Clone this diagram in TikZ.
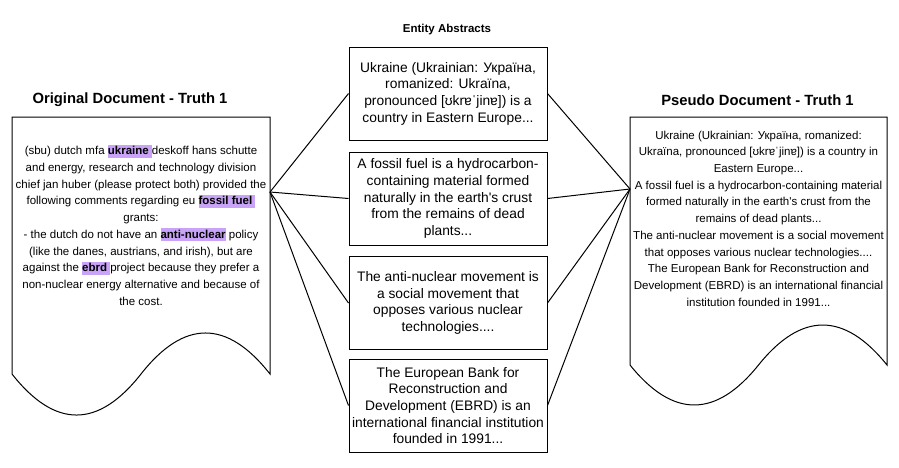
\documentclass[tikz,border=0pt]{standalone}
\usepackage{fontspec}
\setmainfont{Liberation Sans}
\definecolor{hl}{HTML}{C9A3F7}
\newcommand\hlw[1]{{\setlength{\fboxsep}{0pt}\colorbox{hl}{\rule[-3pt]{0pt}{13pt}\bfseries #1}}}
\newcommand\apos{\textquotesingle}
\tikzset{
  absbox/.style={draw, line width=1pt, minimum width=198pt, minimum height=93pt, inner sep=0pt,
    align=center, font=\fontsize{13.8}{16.7}\selectfont},
  doctext/.style={inner sep=0pt, align=center, font=\fontsize{11.5}{16.7}\selectfont},
  doctitle/.style={inner sep=0pt, font=\fontsize{14.8}{17}\selectfont\bfseries},
  conn/.style={line width=1pt},
  docshape/.style={draw, line width=1pt}
}
\begin{document}
\begin{tikzpicture}[x=1pt,y=-1pt]
\useasboundingbox (0,0) rectangle (899,467);
% titles
\node[inner sep=0pt, font=\fontsize{11.5}{13}\selectfont\bfseries] (ttlmid) at (447,30) {Entity Abstracts};
\node[doctitle] (ttlleft) at (130,100) {Original Document - Truth 1};
\node[doctitle] (ttlright) at (757.5,100) {Pseudo Document - Truth 1};
% documents
\draw[docshape] (12,117) -- (270,117) -- (270,374) .. controls (227,319.3) and (184,319.3) .. (141,374) .. controls (98,428.7) and (55,428.7) .. (12,374) -- cycle;
\draw[docshape] (630,117) -- (887,117) -- (887,365) .. controls (844.2,311.7) and (801.3,311.7) .. (758.5,365) .. controls (715.7,418.3) and (672.8,418.3) .. (630,365) -- cycle;
\node[doctext] (ldoc) at (141,225) {(sbu) dutch mfa \hlw{ukraine\ }deskoff hans schutte\\and energy, research and technology division\\chief jan huber (please protect both) provided the\\following comments regarding eu \hlw{fossil fuel\ }\\grants:\\- the dutch do not have an \hlw{anti-nuclear} policy\\(like the danes, austrians, and irish), but are\\against the \hlw{ebrd\ }project because they prefer a\\non-nuclear energy alternative and because of\\the cost.};
\node[doctext] (rdoc) at (758.5,218.5) {Ukraine (Ukrainian: Україна, romanized:\\Ukraïna, pronounced [ʊkrɐˈjinɐ]) is a country in\\Eastern Europe...\\A fossil fuel is a hydrocarbon-containing material\\formed naturally in the earth\apos s crust from the\\remains of dead plants...\\The anti-nuclear movement is a social movement\\that opposes various nuclear technologies....\\The European Bank for Reconstruction and\\Development (EBRD) is an international financial\\institution founded in 1991...};
% abstract boxes
\node[absbox] (b1) at (448,93.5) {Ukraine (Ukrainian: Україна,\\romanized: Ukraïna,\\pronounced [ʊkrɐˈjinɐ]) is a\\country in Eastern Europe...};
\node[absbox] (b2) at (448,198.5) {A fossil fuel is a hydrocarbon-\\containing material formed\\naturally in the earth\apos s crust\\from the remains of dead\\plants...};
\node[absbox] (b3) at (448,303) {The anti-nuclear movement is\\a social movement that\\opposes various nuclear\\technologies....};
\node[absbox] (b4) at (448,405.5) {The European Bank for\\Reconstruction and\\Development (EBRD) is an\\international financial institution\\founded in 1991...};
% connectors
\coordinate (lp) at (270,192);
\coordinate (rp) at (630,189);
\foreach \b in {b1,b2,b3,b4}{
  \draw[conn] (lp) -- (\b.west);
  \draw[conn] (\b.east) -- (rp);
}
\end{tikzpicture}
\end{document}
